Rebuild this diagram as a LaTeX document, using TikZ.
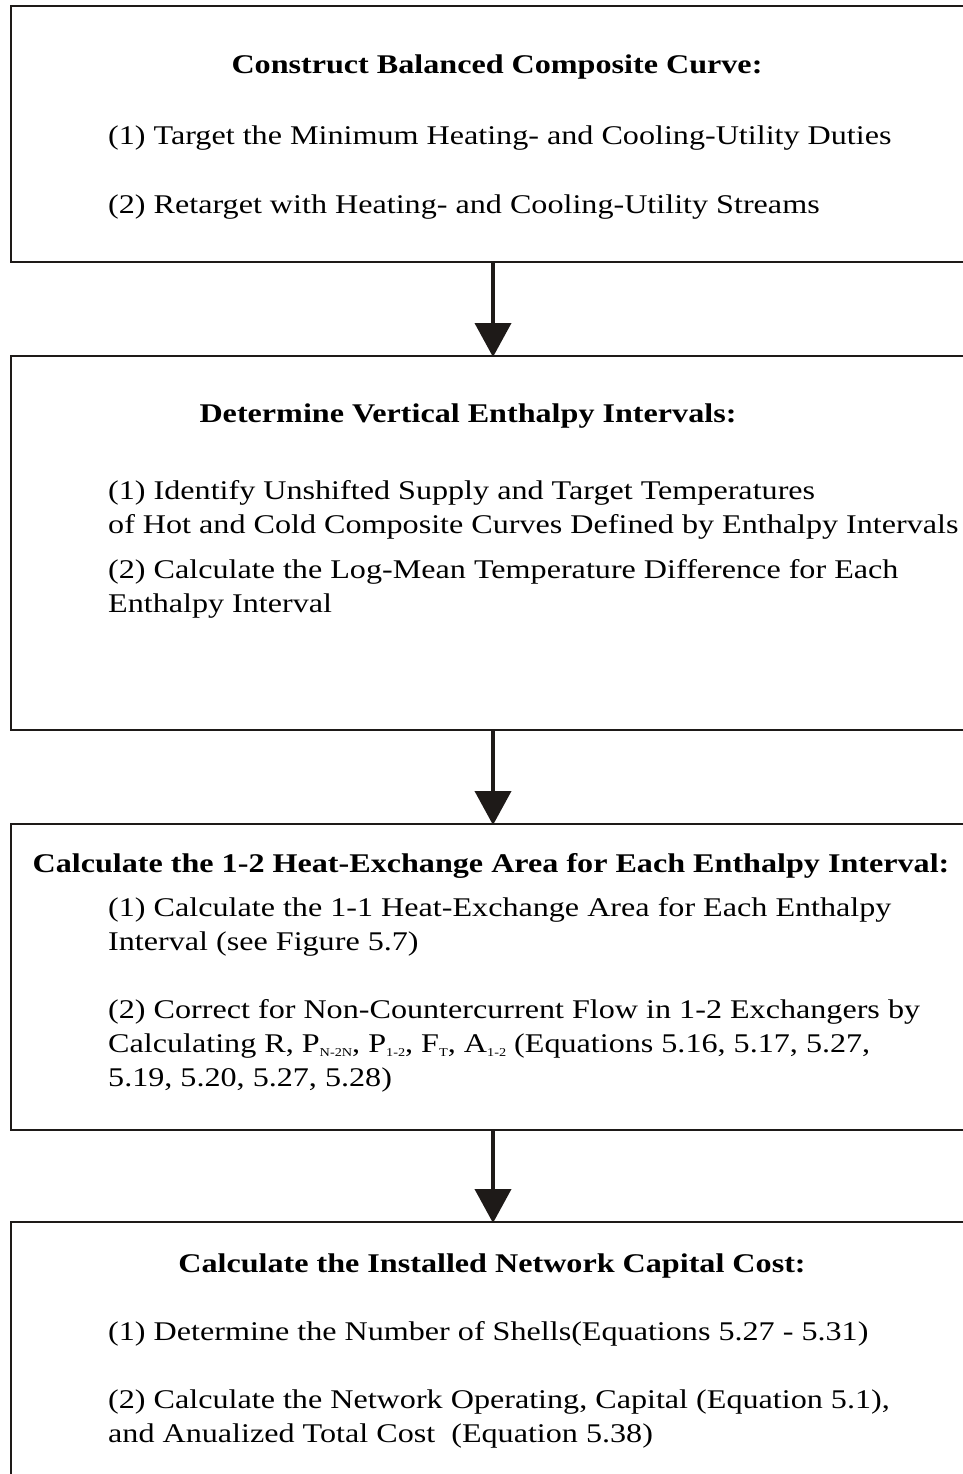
\documentclass[tikz,border=0pt]{standalone}
\usepackage{fontspec}
\setmainfont[FakeStretch=1.19]{Liberation Serif}
\usetikzlibrary{arrows.meta}
\definecolor{ink}{HTML}{1E1A18}
\newcommand{\mysub}[1]{\raisebox{-0.35ex}{\fontsize{12}{12}\selectfont #1}}
\begin{document}
\begin{tikzpicture}[x=1pt,y=-1pt,
  box/.style={draw=ink,line width=2.2pt,minimum width=964pt,inner sep=0pt,outer sep=0pt},
  ttl/.style={anchor=base,font=\fontsize{27}{34}\selectfont\bfseries,text=black,inner sep=0pt},
  txt/.style={anchor=base west,align=left,font=\fontsize{27}{34}\selectfont,text=black,inner sep=0pt},
  flow/.style={draw=ink,line width=4pt,-{Triangle[width=36pt,length=34pt]},shorten >=-1pt}]
\useasboundingbox (0,0) rectangle (963,1474);
\begin{scope}
\clip (0,0) rectangle (963,1474);
\node[box,minimum height=256pt] (b1) at (493,134) {};
\node[box,minimum height=374pt] (b2) at (493,543) {};
\node[box,minimum height=306pt] (b3) at (493,977) {};
\node[box,minimum height=290pt] (b4) at (493,1367) {};
\end{scope}
\draw[flow] (b1.south) -- (b2.north);
\draw[flow] (b2.south) -- (b3.north);
\draw[flow] (b3.south) -- (b4.north);

\node[ttl] (t1) at (497,74) {Construct Balanced Composite Curve:};
\node[txt] (l11) at (108,145) {(1) Target the Minimum Heating- and Cooling-Utility Duties};
\node[txt] (l12) at (108,213) {(2) Retarget with Heating- and Cooling-Utility Streams};

\node[ttl] (t2) at (468,422) {Determine Vertical Enthalpy Intervals:};
\node[txt] (l21) at (108,533) {(1) Identify Unshifted Supply and Target Temperatures\\of Hot and Cold Composite Curves Defined by Enthalpy Intervals};
\node[txt] (l22) at (108,612) {(2) Calculate the Log-Mean Temperature Difference for Each\\Enthalpy Interval};

\node[ttl] (t3) at (491,872) {Calculate the 1-2 Heat-Exchange Area for Each Enthalpy Interval:};
\node[txt] (l31) at (108,950) {(1) Calculate the 1-1 Heat-Exchange Area for Each Enthalpy\\Interval (see Figure 5.7)};
\node[txt] (l32) at (108,1086) {(2) Correct for Non-Countercurrent Flow in 1-2 Exchangers by\\Calculating R, P\mysub{N-2N}, P\mysub{1-2}, F\mysub{T}, A\mysub{1-2} (Equations 5.16, 5.17, 5.27,\\5.19, 5.20, 5.27, 5.28)};

\node[ttl] (t4) at (492,1272) {Calculate the Installed Network Capital Cost:};
\node[txt] (l41) at (108,1340) {(1) Determine the Number of Shells(Equations 5.27 - 5.31)};
\node[txt] (l42) at (108,1442) {(2) Calculate the Network Operating, Capital (Equation 5.1),\\and Anualized Total Cost\ \ (Equation 5.38)};
\end{tikzpicture}
\end{document}
